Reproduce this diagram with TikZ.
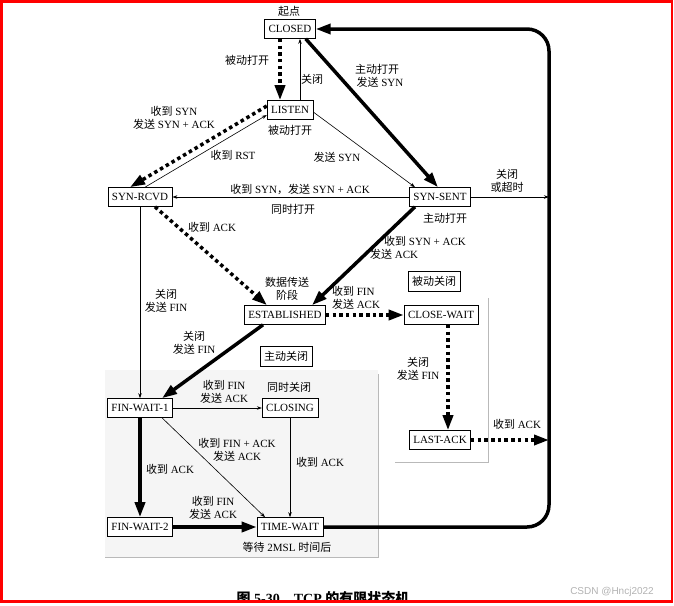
\documentclass[tikz,border=0pt]{standalone}
\usepackage{fontspec}
\setmainfont{Liberation Serif}
\newfontfamily\zhfont{Noto Sans CJK SC}
\newfontfamily\wmfont{Liberation Sans}
\usetikzlibrary{arrows.meta,positioning}
\newcommand{\zh}[1]{{\zhfont #1}}

\begin{document}
\begin{tikzpicture}[x=1pt, y=-1pt,
    every node/.style={font=\fontsize{11}{13}\selectfont},
    state/.style={draw, line width=0.6pt, fill=white, inner xsep=4pt, inner ysep=0pt, minimum height=19pt},
    regionbox/.style={draw, line width=0.6pt, fill=white, inner xsep=4pt, inner ysep=0pt, minimum height=20pt},
    tag/.style={align=center, inner sep=1pt},
    thinarr/.style={line width=0.6pt, -{Stealth[length=5pt, width=3.5pt]}},
    thickarr/.style={line width=3.5pt, -{Triangle[length=15pt, width=10pt]}},
    dotarr/.style={line width=3.5pt, dash pattern=on 3.5pt off 3.2pt, -{Triangle[length=15pt, width=10pt]}}]
    \useasboundingbox (0,0) rectangle (674,605);

    % regions
    \fill[gray!8] (105,370) rectangle (378,557);
    \draw[gray!55, line width=0.8pt] (378,374) -- (378,557) -- (105,557);
    \draw[gray!55, line width=0.8pt] (488,298) -- (488,462) -- (395,462);

    % states
    \node[state] (closed) at (290,29) {CLOSED};
    \node[state] (listen) at (290,110) {LISTEN};
    \node[state] (synrcvd) at (140,197) {SYN-RCVD};
    \node[state] (synsent) at (440,197) {SYN-SENT};
    \node[state] (estab) at (285,315) {ESTABLISHED};
    \node[state] (closewait) at (441,315) {CLOSE-WAIT};
    \node[state] (finwait1) at (140,408) {FIN-WAIT-1};
    \node[state] (closing) at (290,408) {CLOSING};
    \node[state] (lastack) at (440,440) {LAST-ACK};
    \node[state] (finwait2) at (140,527) {FIN-WAIT-2};
    \node[state] (timewait) at (290,527) {TIME-WAIT};
    \node[regionbox] (passive) at (434,281) {\zh{被动关闭}};
    \node[regionbox] (active) at (286,356) {\zh{主动关闭}};

    \coordinate (rtop) at (549,29);
    \coordinate (rsyn) at (549,197);
    \coordinate (rack) at (549,440);

    % transitions
    \draw[dotarr] ([xshift=-10pt]closed.south) -- ([xshift=-10pt]listen.north);
    \draw[thinarr] ([xshift=10pt]listen.north) -- ([xshift=10pt]closed.south);
    \draw[thickarr] ([xshift=-10pt]closed.south east) -- ([xshift=-2pt]synsent.north);
    \draw[dotarr] ([yshift=4pt]listen.west) -- ([xshift=-10pt]synrcvd.north);
    \draw[thinarr] ([xshift=5pt]synrcvd.north) -- ([yshift=-5pt]listen.west);
    \draw[thinarr] ([yshift=-2pt]listen.east) -- ([xshift=-25pt]synsent.north);
    \draw[thinarr] (synsent) -- (synrcvd);
    \draw[thinarr] (synsent.east) -- (rsyn);
    \draw[thickarr] ([xshift=-25pt]synsent.south) -- ([xshift=27pt]estab.north);
    \draw[dotarr] ([xshift=15pt]synrcvd.south) -- ([xshift=-18pt]estab.north);
    \draw[dotarr] (estab) -- (closewait);
    \draw[dotarr] ([xshift=7pt]closewait.south) -- ([xshift=8pt]lastack.north);
    \draw[dotarr] (lastack.east) -- (rack);
    \draw[thinarr] (synrcvd) -- (finwait1);
    \draw[thickarr] ([xshift=-22pt]estab.south) -- ([xshift=22pt]finwait1.north);
    \draw[thinarr] (finwait1) -- (closing);
    \draw[thinarr] ([xshift=22pt]finwait1.south) -- ([xshift=-25pt]timewait.north);
    \draw[thinarr] (closing) -- (timewait);
    \draw[thickarr] (finwait1) -- (finwait2);
    \draw[thickarr] (finwait2) -- (timewait);
    \draw[thickarr, rounded corners=22pt] (timewait.east) -| (rtop) -- (closed.east);

    % labels
    \node[tag] (start) at (289,11) {\zh{起点}};
    \node[tag] (lbpassive) at (247,60) {\zh{被动打开}};
    \node[tag] (lbclose) at (312,79) {\zh{关闭}};
    \node[tag] (lbactive) at (377,76) {\zh{主动打开}\\\hspace*{6pt}\zh{发送} SYN};
    \node[tag] (lbsynack) at (174,118) {\zh{收到} SYN\\\zh{发送} SYN + ACK};
    \node[tag] (lblisten) at (290,130) {\zh{被动打开}};
    \node[tag] (lbrst) at (233,155) {\zh{收到} RST};
    \node[tag] (lbsendsyn) at (337,157) {\zh{发送} SYN};
    \node[tag] (lbsimul) at (300,189) {\zh{收到} SYN\zh{，发送} SYN + ACK};
    \node[tag] (lbsimopen) at (293,209) {\zh{同时打开}};
    \node[tag] (lbtimeout) at (507,181) {\zh{关闭}\\\zh{或超时}};
    \node[tag] (lbsent) at (445,218) {\zh{主动打开}};
    \node[tag] (lback1) at (212,227) {\zh{收到} ACK};
    \node[tag, align=left] (lbsynack2) at (418,248) {\hspace*{14pt}\zh{收到} SYN + ACK\\\zh{发送} ACK};
    \node[tag] (lbdata) at (287,289) {\zh{数据传送}\\\zh{阶段}};
    \node[tag, align=left] (lbfin1) at (356,298) {\zh{收到} FIN\\\zh{发送} ACK};
    \node[tag] (lbclose1) at (166,301) {\zh{关闭}\\\zh{发送} FIN};
    \node[tag] (lbclose2) at (194,343) {\zh{关闭}\\\zh{发送} FIN};
    \node[tag] (lbclose3) at (418,369) {\zh{关闭}\\\zh{发送} FIN};
    \node[tag] (lbacklast) at (517,424) {\zh{收到} ACK};
    \node[tag] (lbfin2) at (224,392) {\zh{收到} FIN\\\zh{发送} ACK};
    \node[tag] (lbsimclose) at (289,387) {\zh{同时关闭}};
    \node[tag] (lbfinack) at (237,450) {\zh{收到} FIN + ACK\\\zh{发送} ACK};
    \node[tag] (lback2) at (170,469) {\zh{收到} ACK};
    \node[tag] (lback3) at (320,462) {\zh{收到} ACK};
    \node[tag] (lbfin3) at (213,508) {\zh{收到} FIN\\\zh{发送} ACK};
    \node[tag] (lbwait) at (287,547) {\zh{等待} 2MSL \zh{时间后}};

    % caption and frame
    \begin{scope}
      \clip (0,0) rectangle (674,600);
      \node[font=\fontsize{14}{16}\selectfont\bfseries] (caption) at (323,598) {\zh{图} 5-30\quad TCP \zh{的有限状态机}};
    \end{scope}
    \node[text=gray!60, font=\wmfont\fontsize{10}{12}\selectfont] (mark) at (612,592) {CSDN @Hncj2022};
    \draw[red, line width=2.5pt] (1.25,1.25) rectangle (672,601.5);
\end{tikzpicture}
\end{document}
